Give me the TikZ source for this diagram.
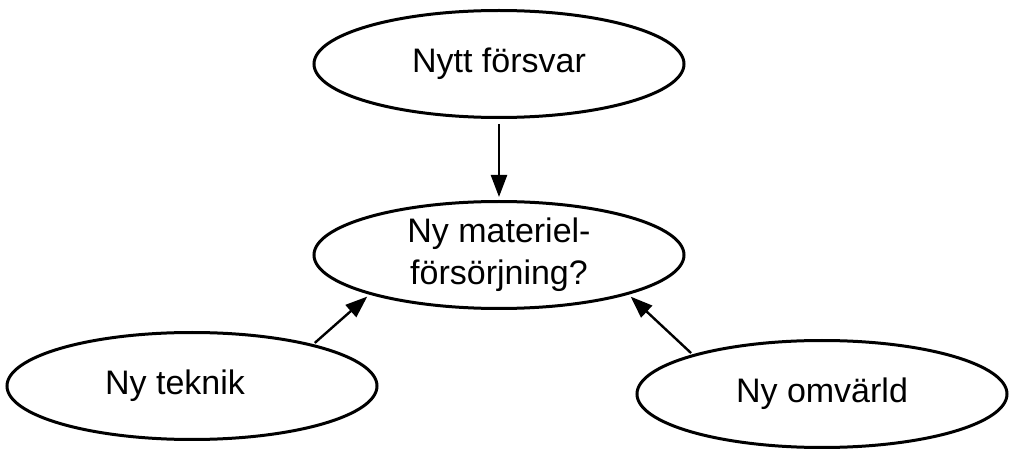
\documentclass[tikz,border=0pt]{standalone}
\usepackage{fontspec}
\setmainfont{Liberation Sans}
\usetikzlibrary{shapes.geometric,arrows.meta}

\begin{document}
\begin{tikzpicture}[x=0.5pt, y=-0.5pt, >={Triangle[length=11pt,width=8pt]},
  font=\fontsize{17}{21}\selectfont,
  idea/.style={draw, ellipse, line width=1.5pt, inner sep=0pt, minimum width=185pt, minimum height=53.5pt, align=center},
  link/.style={->, line width=1.2pt, shorten <=1pt, shorten >=1.5pt}]
\useasboundingbox (0,0) rectangle (1009,449);
\node[idea] (forsvar) at (499,64) {Nytt försvar};
\node[idea] (materiel) at (499,255) {Ny materiel-\\försörjning?};
\node[idea, label={[xshift=-8.5pt]center:Ny teknik}] (teknik) at (192,386) {};
\node[idea] (omvarld) at (822,394) {Ny omvärld};
\draw[link, shorten <=2.5pt] (forsvar) -- (materiel);
\draw[link] (teknik.19) -- (materiel.197);
\draw[link] (omvarld.163) -- (materiel.343);
\end{tikzpicture}
\end{document}
